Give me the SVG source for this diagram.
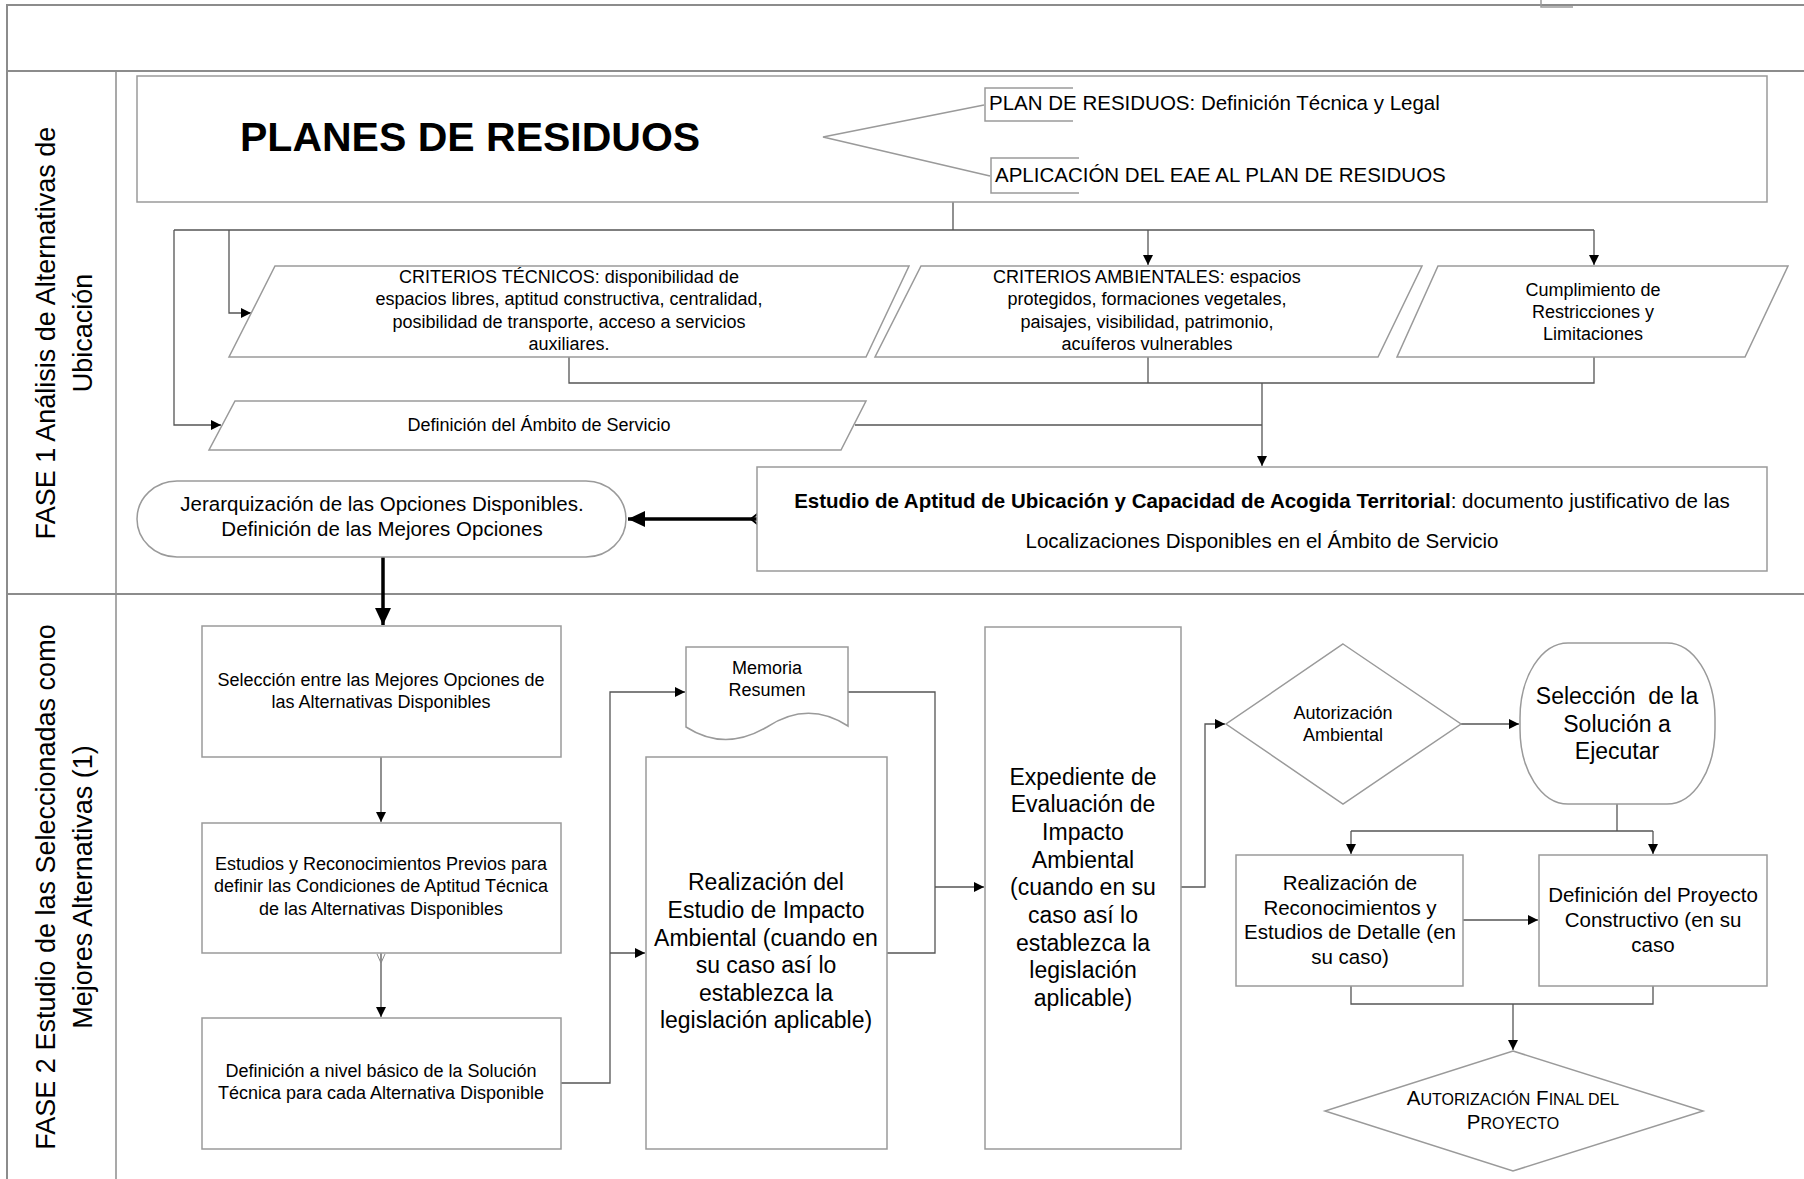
<svg xmlns="http://www.w3.org/2000/svg" width="1804" height="1179" viewBox="0 0 1804 1179">
<defs>
<marker id="arr" markerUnits="userSpaceOnUse" markerWidth="11" markerHeight="10" refX="10" refY="5" orient="auto"><path d="M0,0 L10,5 L0,10 z" fill="#000"/></marker>
<marker id="arrBig" markerUnits="userSpaceOnUse" markerWidth="18" markerHeight="18" refX="17" refY="8" orient="auto"><path d="M0,0 L17,8 L0,16 z" fill="#000"/></marker>
</defs>
<style>
text{font-family:"Liberation Sans",Arial,sans-serif;fill:#000}
.frame{stroke:#8c8c8c;stroke-width:2;fill:none}
.box{fill:#fff;stroke:#9a9a9a;stroke-width:1.5}
.br{fill:none;stroke:#9a9a9a;stroke-width:1.5}
.c{fill:none;stroke:#555;stroke-width:1.3}
.ca{fill:none;stroke:#555;stroke-width:1.3;marker-end:url(#arr)}
.thick{fill:none;stroke:#000;stroke-width:3.5;marker-end:url(#arrBig)}
.m{text-anchor:middle}
.f18{font-size:18px}
.f20{font-size:20.5px}
.f23{font-size:23px}
.f27{font-size:27px}
</style>
<g id="frame">
<line class="frame" x1="7" y1="5" x2="1804" y2="5"/>
<line class="frame" x1="7" y1="71" x2="1804" y2="71"/>
<line class="frame" x1="7" y1="594" x2="1804" y2="594"/>
<line class="frame" x1="7" y1="4" x2="7" y2="1179"/>
<line class="frame" x1="116" y1="71" x2="116" y2="1179" style="stroke-width:1.5"/>
<path class="br" d="M1541,0 V7 H1573"/>
<text class="f27 m" transform="translate(55,333) rotate(-90)">FASE 1 Análisis de Alternativas de</text>
<text class="f27 m" transform="translate(92,333) rotate(-90)">Ubicación</text>
<text class="f27 m" transform="translate(55,887) rotate(-90)">FASE 2 Estudio de las Seleccionadas como</text>
<text class="f27 m" transform="translate(92,887) rotate(-90)">Mejores Alternativas (1)</text>
</g>
<g id="connectors">
<path class="c" d="M953,202 V230"/>
<path class="c" d="M174,230 H1594"/>
<path class="ca" d="M174,230 V425 H221"/>
<path class="ca" d="M229,230 V313 H251"/>
<path class="ca" d="M1148,230 V265"/>
<path class="ca" d="M1594,230 V265"/>
<path class="c" d="M569,357 V383 H1594 V357"/>
<path class="c" d="M1148,357 V383"/>
<path class="c" d="M855,425 H1262"/>
<path class="ca" d="M1262,383 V466"/>
<path class="thick" d="M757,519 H628"/>
<path d="M761,511 L751,519 L761,527" fill="none" stroke="#000" stroke-width="2"/>
<path class="thick" d="M383,557 V625"/>
<path class="ca" d="M381,757 V822"/>
<path class="ca" d="M381,953 V1017"/>
<path d="M377,954 L381,963 L385,954" fill="none" stroke="#888" stroke-width="1"/>
<path class="ca" d="M561,1083 H610 V692 H685"/>
<path class="ca" d="M610,953 H645"/>
<path class="c" d="M848,692 H935 V953 H887"/>
<path class="ca" d="M935,887 H984"/>
<path class="ca" d="M1181,887 H1205 V724 H1225"/>
<path class="ca" d="M1461,724 H1519"/>
<path class="c" d="M1617,804 V831"/>
<path class="c" d="M1351,831 H1653"/>
<path class="ca" d="M1351,831 V854"/>
<path class="ca" d="M1653,831 V854"/>
<path class="ca" d="M1463,920 H1538"/>
<path class="c" d="M1351,986 V1004 H1653 V986"/>
<path class="ca" d="M1513,1004 V1050"/>
</g>
<g id="planes">
<rect class="box" x="137" y="76" width="1630" height="126"/>
<text x="240" y="151" style="font-size:41px;font-weight:bold">PLANES DE RESIDUOS</text>
<path class="br" d="M984,105 L823,137 L990,176"/>
<path class="br" d="M1073,88 H985 V121 H1073"/>
<path class="br" d="M1079,158 H991 V193 H1079"/>
<text class="f20" x="989" y="110">PLAN DE RESIDUOS: Definición Técnica y Legal</text>
<text class="f20" x="995" y="182">APLICACIÓN DEL EAE AL PLAN DE RESIDUOS</text>
</g>
<g id="criterios-tecnicos">
<polygon class="box" points="275,266 909,266 866,357 229,357"/>
<text class="f18 m" x="569" y="283">CRITERIOS TÉCNICOS: disponibilidad de</text>
<text class="f18 m" x="569" y="305">espacios libres, aptitud constructiva, centralidad,</text>
<text class="f18 m" x="569" y="328">posibilidad de transporte, acceso a servicios</text>
<text class="f18 m" x="569" y="350">auxiliares.</text>
</g>
<g id="criterios-ambientales">
<polygon class="box" points="921,266 1422,266 1378,357 875,357"/>
<text class="f18 m" x="1147" y="283">CRITERIOS AMBIENTALES: espacios</text>
<text class="f18 m" x="1147" y="305">protegidos, formaciones vegetales,</text>
<text class="f18 m" x="1147" y="328">paisajes, visibilidad, patrimonio,</text>
<text class="f18 m" x="1147" y="350">acuíferos vulnerables</text>
</g>
<g id="cumplimiento">
<polygon class="box" points="1438,266 1788,266 1745,357 1397,357"/>
<text class="f18 m" x="1593" y="296">Cumplimiento de</text>
<text class="f18 m" x="1593" y="318">Restricciones y</text>
<text class="f18 m" x="1593" y="340">Limitaciones</text>
</g>
<g id="ambito">
<polygon class="box" points="235,401 866,401 841,450 209,450"/>
<text class="f18 m" x="539" y="431">Definición del Ámbito de Servicio</text>
</g>
<g id="estudio-aptitud">
<rect class="box" x="757" y="467" width="1010" height="104"/>
<text class="f20 m" x="1262" y="508"><tspan font-weight="bold">Estudio de Aptitud de Ubicación y Capacidad de Acogida Territorial</tspan>: documento justificativo de las</text>
<text class="f20 m" x="1262" y="548">Localizaciones Disponibles en el Ámbito de Servicio</text>
</g>
<g id="jerarquizacion">
<rect class="box" x="137" y="481" width="489" height="76" rx="40" ry="38"/>
<text class="f20 m" x="382" y="511">Jerarquización de las Opciones Disponibles.</text>
<text class="f20 m" x="382" y="536">Definición de las Mejores Opciones</text>
</g>
<g id="seleccion-mejores">
<rect class="box" x="202" y="626" width="359" height="131"/>
<text class="f18 m" x="381" y="686">Selección entre las Mejores Opciones de</text>
<text class="f18 m" x="381" y="708">las Alternativas Disponibles</text>
</g>
<g id="estudios-previos">
<rect class="box" x="202" y="823" width="359" height="130"/>
<text class="f18 m" x="381" y="870">Estudios y Reconocimientos Previos para</text>
<text class="f18 m" x="381" y="892">definir las Condiciones de Aptitud Técnica</text>
<text class="f18 m" x="381" y="915">de las Alternativas Disponibles</text>
</g>
<g id="definicion-basica">
<rect class="box" x="202" y="1018" width="359" height="131"/>
<text class="f18 m" x="381" y="1077">Definición a nivel básico de la Solución</text>
<text class="f18 m" x="381" y="1099">Técnica para cada Alternativa Disponible</text>
</g>
<g id="memoria">
<path class="box" d="M686,647 H848 V726 Q808,700 767,727 Q725,752 686,727 Z"/>
<text class="f18 m" x="767" y="674">Memoria</text>
<text class="f18 m" x="767" y="696">Resumen</text>
</g>
<g id="realizacion-eia">
<rect class="box" x="646" y="757" width="241" height="392"/>
<text class="f23 m" x="766" y="890">Realización del</text>
<text class="f23 m" x="766" y="918">Estudio de Impacto</text>
<text class="f23 m" x="766" y="946">Ambiental (cuando en</text>
<text class="f23 m" x="766" y="973">su caso así lo</text>
<text class="f23 m" x="766" y="1001">establezca la</text>
<text class="f23 m" x="766" y="1028">legislación aplicable)</text>
</g>
<g id="expediente">
<rect class="box" x="985" y="627" width="196" height="522"/>
<text class="f23 m" x="1083" y="785">Expediente de</text>
<text class="f23 m" x="1083" y="812">Evaluación de</text>
<text class="f23 m" x="1083" y="840">Impacto</text>
<text class="f23 m" x="1083" y="868">Ambiental</text>
<text class="f23 m" x="1083" y="895">(cuando en su</text>
<text class="f23 m" x="1083" y="923">caso así lo</text>
<text class="f23 m" x="1083" y="951">establezca la</text>
<text class="f23 m" x="1083" y="978">legislación</text>
<text class="f23 m" x="1083" y="1006">aplicable)</text>
</g>
<g id="autorizacion-ambiental">
<polygon class="box" points="1343,644 1461,724 1343,804 1226,724"/>
<text class="f18 m" x="1343" y="719">Autorización</text>
<text class="f18 m" x="1343" y="741">Ambiental</text>
</g>
<g id="seleccion-solucion">
<rect class="box" x="1520" y="643" width="195" height="161" rx="48" ry="75"/>
<text class="f23 m" x="1617" y="704" xml:space="preserve">Selección  de la</text>
<text class="f23 m" x="1617" y="732">Solución a</text>
<text class="f23 m" x="1617" y="759">Ejecutar</text>
</g>
<g id="reconocimientos">
<rect class="box" x="1236" y="855" width="227" height="131"/>
<text class="f20 m" x="1350" y="890">Realización de</text>
<text class="f20 m" x="1350" y="915">Reconocimientos y</text>
<text class="f20 m" x="1350" y="939">Estudios de Detalle (en</text>
<text class="f20 m" x="1350" y="964">su caso)</text>
</g>
<g id="proyecto-constructivo">
<rect class="box" x="1539" y="855" width="228" height="131"/>
<text class="f20 m" x="1653" y="902">Definición del Proyecto</text>
<text class="f20 m" x="1653" y="927">Constructivo (en su</text>
<text class="f20 m" x="1653" y="952">caso</text>
</g>
<g id="autorizacion-final">
<polygon class="box" points="1513,1051 1703,1111 1513,1171 1325,1111"/>
<text class="m" x="1513" y="1105" style="font-size:20.5px">A<tspan style="font-size:16px">UTORIZACIÓN</tspan> F<tspan style="font-size:16px">INAL DEL</tspan></text>
<text class="m" x="1513" y="1129" style="font-size:20.5px">P<tspan style="font-size:16px">ROYECTO</tspan></text>
</g>
</svg>
